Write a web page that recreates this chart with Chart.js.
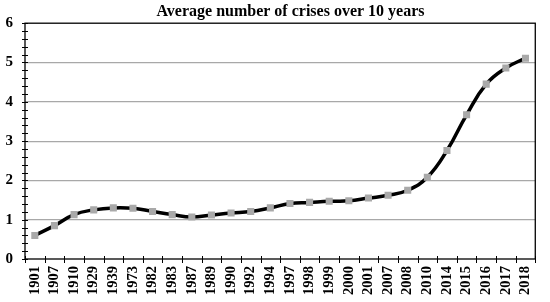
<!DOCTYPE html>
<html>
<head>
<meta charset="utf-8">
<script src="https://cdn.jsdelivr.net/npm/chart.js@4/dist/chart.umd.min.js"></script>
<style>
  html, body { margin: 0; padding: 0; background: #fff; }
  #wrap { width: 550px; height: 302px; }
</style>
</head>
<body>
<div id="wrap"><canvas id="myChart"></canvas></div>
<script>
const years = ['1901', '1907', '1910', '1929', '1939', '1973', '1982', '1983', '1987', '1989', '1990', '1992', '1994',
  '1997', '1998', '1999', '2000', '2001', '2007', '2008', '2010', '2014', '2015', '2016', '2017', '2018']
const avgCrises = [0.6, 0.85, 1.13, 1.25, 1.30, 1.29, 1.21, 1.13, 1.07, 1.12, 1.17, 1.21, 1.30,
  1.41, 1.44, 1.47, 1.48, 1.55, 1.62, 1.75, 2.08, 2.76, 3.67, 4.45, 4.86, 5.11]
const yMin = 0
const yMax = 6
const titleText = 'Average number of crises over 10 years'

const serif = '"Liberation Serif", "Times New Roman", serif'
const ctx = document.querySelector('#myChart')

// frame + tick marks crossing the axes (excel style)
const axisMarks = {
  id: 'axisMarks',
  afterLayout(chart) {
    // title sits a bit right of centre in the original
    chart.titleBlock.left += 19
    chart.titleBlock.right += 19
  },
  afterDraw(chart) {
    const { ctx, chartArea: a, scales: { x, y } } = chart
    ctx.save()
    ctx.strokeStyle = '#000'
    ctx.lineWidth = 1.3
    ctx.strokeRect(a.left, a.top, a.right - a.left, a.bottom - a.top)
    ctx.lineWidth = 1
    ctx.beginPath()
    // minor ticks on y every 0.2
    for (let v = yMin; v <= yMax + 1e-9; v += 0.2) {
      const py = Math.round(y.getPixelForValue(v)) + 0.5
      ctx.moveTo(a.left - 3, py)
      ctx.lineTo(a.left + 3, py)
    }
    // category boundaries on x
    for (let i = 0; i <= years.length; i++) {
      const px = Math.round(x.getPixelForValue(i - 0.5)) + 0.5
      ctx.moveTo(px, a.bottom - 3)
      ctx.lineTo(px, a.bottom + 4)
    }
    ctx.stroke()
    ctx.restore()
  }
}

window.chart = new Chart(ctx, {
  type: 'line',
  data: {
    labels: years,
    datasets: [{
      label: 'Average',
      data: avgCrises,
      borderColor: '#000',
      borderWidth: 3.5,
      tension: 0.45,
      pointStyle: 'rect',
      pointRadius: 5,
      pointBorderWidth: 0,
      pointBackgroundColor: '#a9a9a9',
      fill: false
    }]
  },
  options: {
    responsive: true,
    maintainAspectRatio: false,
    animation: false,
    layout: { padding: { left: 0, right: 7, top: 0, bottom: 0 } },
    plugins: {
      legend: { display: false },
      tooltip: { enabled: false },
      title: {
        display: true,
        text: titleText,
        color: '#000',
        font: { family: serif, size: 16, weight: 'bold' },
        padding: { top: 2, bottom: 2 }
      }
    },
    scales: {
      x: {
        offset: true,
        grid: { display: false, drawTicks: false },
        border: { display: false },
        ticks: {
          color: '#000',
          font: { family: serif, size: 14.5, weight: 'bold' },
          minRotation: 90,
          maxRotation: 90,
          autoSkip: false,
          padding: 7
        },
        afterFit(scale) { scale.height = 43 }
      },
      y: {
        min: yMin,
        max: yMax,
        grid: {
          color: (c) => c.tick && c.tick.value > 0 && c.tick.value < yMax ? '#a8a8a8' : 'transparent',
          lineWidth: 1.2,
          drawTicks: false
        },
        border: { display: false },
        ticks: {
          stepSize: 1,
          color: '#000',
          font: { family: serif, size: 15, weight: 'bold' },
          padding: 12
        },
        afterFit(scale) { scale.width = 25 }
      }
    }
  },
  plugins: [axisMarks]
})
</script>
</body>
</html>
